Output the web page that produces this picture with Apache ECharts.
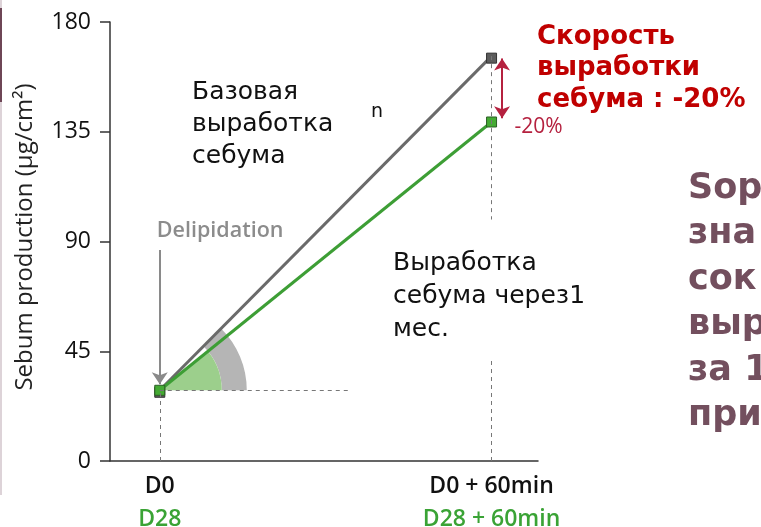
<!DOCTYPE html>
<html>
<head>
<meta charset="utf-8">
<script src="https://cdn.jsdelivr.net/npm/echarts@6/dist/echarts.min.js"></script>
<style>
  html, body { margin: 0; padding: 0; background: #fff; }
  #chart { width: 761px; height: 527px; }
</style>
</head>
<body>
<div id="chart"></div>
<script>
// time points (minutes after delipidation)
const timePoints = [0, 60];
const topLabels = ['D0', 'D0 + 60min'];
const bottomLabels = ['D28', 'D28 + 60min'];

// sebum production, µg/cm²
const baseline = [29, 166];
const afterMonth = [29, 139];

const yMin = 0;
const yMax = 180;
const yStep = 45;

const chart = echarts.init(document.getElementById('chart'));

const dash = { color: '#777', width: 1, type: [4, 4] };
const seg = (a, b, style, s1, s2) => [
  { coord: a, symbol: s1 || 'none', lineStyle: style },
  { coord: b, symbol: s2 || 'none' }
];

const option = {
  animation: false,
  backgroundColor: '#fff',
  grid: { left: 110, right: 223, top: 22, bottom: 66, outerBoundsMode: 'none', containLabel: false },
  xAxis: {
    type: 'value',
    min: -9,
    max: 68.4,
    splitLine: { show: false },
    axisTick: { show: false },
    axisLine: { lineStyle: { color: '#333', width: 1.5 } },
    axisLabel: {
      customValues: timePoints,
      margin: 9,
      formatter: (v) => {
        const i = timePoints.indexOf(v);
        return i < 0 ? '' : '{a|' + topLabels[i] + '}\n{b|' + bottomLabels[i] + '}';
      },
      rich: {
        a: { fontFamily: 'Open Sans', fontSize: 23, fontWeight: 600, color: '#111', lineHeight: 33 },
        b: { fontFamily: 'Open Sans', fontSize: 23, fontWeight: 600, color: '#3aa335', lineHeight: 33 }
      }
    }
  },
  yAxis: {
    type: 'value',
    min: yMin,
    max: yMax,
    interval: yStep,
    splitLine: { show: false },
    axisLine: { show: true, onZero: false, lineStyle: { color: '#333', width: 1.5 } },
    axisTick: { show: true, length: 10, lineStyle: { color: '#333', width: 1.5 } },
    axisLabel: { fontFamily: 'Open Sans', fontSize: 23, fontWeight: 500, color: '#111', margin: 19 }
  },
  series: [
    {
      name: 'baseline',
      type: 'line',
      z: 3,
      data: timePoints.map((t, i) => [t, baseline[i]]),
      symbol: 'rect',
      symbolSize: 10,
      symbolOffset: [0, 2],
      lineStyle: { color: '#6a6a6a', width: 3 },
      itemStyle: { color: '#5c5c5c', borderColor: '#333', borderWidth: 1 },
      markLine: {
        silent: true,
        symbolSize: 12,
        label: { show: false },
        data: [
          seg([0, baseline[0]], [34.4, baseline[0]], dash),
          seg([0, 0], [0, baseline[0]], dash),
          seg([60, baseline[1]], [60, 99], dash),
          seg([60, 41], [60, 0], dash),
          seg([0, 86.5], [0, 31.5], { color: '#8a8a8a', width: 2, type: 'solid' }, 'none', 'arrow'),
          seg([61.9, 165], [61.9, 140.5], { color: '#b5213f', width: 2, type: 'solid' }, 'arrow', 'arrow')
        ]
      }
    },
    {
      name: 'after 1 month',
      type: 'line',
      z: 4,
      data: timePoints.map((t, i) => [t, afterMonth[i]]),
      symbol: 'rect',
      symbolSize: 10,
      lineStyle: { color: '#3d9e35', width: 3 },
      itemStyle: { color: '#44aa33', borderColor: '#2c5e25', borderWidth: 1 }
    }
  ]
};

chart.setOption(option);

// angle sectors and annotations anchored on the data
const p0 = chart.convertToPixel({ gridIndex: 0 }, [timePoints[0], baseline[0]]);
const pGray = chart.convertToPixel({ gridIndex: 0 }, [timePoints[1], baseline[1]]);
const pGreen = chart.convertToPixel({ gridIndex: 0 }, [timePoints[1], afterMonth[1]]);
const aGray = Math.atan2(pGray[1] - p0[1], pGray[0] - p0[0]);
const aGreen = Math.atan2(pGreen[1] - p0[1], pGreen[0] - p0[0]);
const pDelip = chart.convertToPixel({ gridIndex: 0 }, [0, 93]);
const pPct = chart.convertToPixel({ gridIndex: 0 }, [60, afterMonth[1]]);

const black = { fontFamily: 'DejaVu Sans', fontSize: 25, fill: '#111', lineHeight: 32 };

chart.setOption({
  graphic: [
    { type: 'rect', shape: { x: 0, y: 0, width: 2, height: 495 }, style: { fill: '#ddd3d8' } },
    { type: 'rect', shape: { x: 0, y: 8, width: 2, height: 94 }, style: { fill: '#6e4656' } },
    {
      type: 'text', x: 25, y: 237, rotation: Math.PI / 2,
      style: {
        text: 'Sebum production (μg/cm²)', fontFamily: 'Open Sans', fontSize: 24, fill: '#222',
        align: 'center', verticalAlign: 'middle'
      }
    },
    {
      type: 'sector', z: 1,
      shape: { cx: p0[0], cy: p0[1], r0: 62, r: 87, startAngle: aGray, endAngle: 0 },
      style: { fill: '#b5b5b5' }
    },
    {
      type: 'sector', z: 1,
      shape: { cx: p0[0], cy: p0[1], r0: 0, r: 62, startAngle: aGreen, endAngle: 0 },
      style: { fill: '#9ccf8c' }
    },
    {
      type: 'text', left: pDelip[0] - 3, top: pDelip[1] - 14,
      style: { text: 'Delipidation', fontFamily: 'Open Sans', fontWeight: 600, fontSize: 21.5, fill: '#8c8c8c' }
    },
    {
      type: 'text', left: pPct[0] + 23, top: pPct[1] - 5,
      style: { text: '-20%', fontFamily: 'Open Sans', fontSize: 21, fill: '#b5213f' }
    },
    {
      type: 'text', left: 192, top: 76,
      style: Object.assign({ text: 'Базовая\nвыработка\nсебума' }, black)
    },
    {
      type: 'text', left: 371, top: 103,
      style: { text: 'n', fontFamily: 'DejaVu Sans', fontSize: 19, fill: '#111' }
    },
    {
      type: 'text', left: 393, top: 247,
      style: Object.assign({ text: 'Выработка\nсебума через1\nмес.' }, black, { lineHeight: 33 })
    },
    {
      type: 'text', left: 537, top: 21,
      style: {
        text: 'Скорость\nвыработки\nсебума : -20%',
        fontFamily: 'DejaVu Sans', fontWeight: 'bold', fontSize: 26, lineHeight: 31.5, fill: '#c00000'
      }
    },
    {
      type: 'text', left: 688, top: 166,
      style: {
        text: 'Sop\nзна\nсок\nвыр\nза 1\nпри',
        fontFamily: 'DejaVu Sans', fontWeight: 'bold', fontSize: 35, lineHeight: 45.5, fill: '#734f5e'
      }
    }
  ]
});
</script>
</body>
</html>
